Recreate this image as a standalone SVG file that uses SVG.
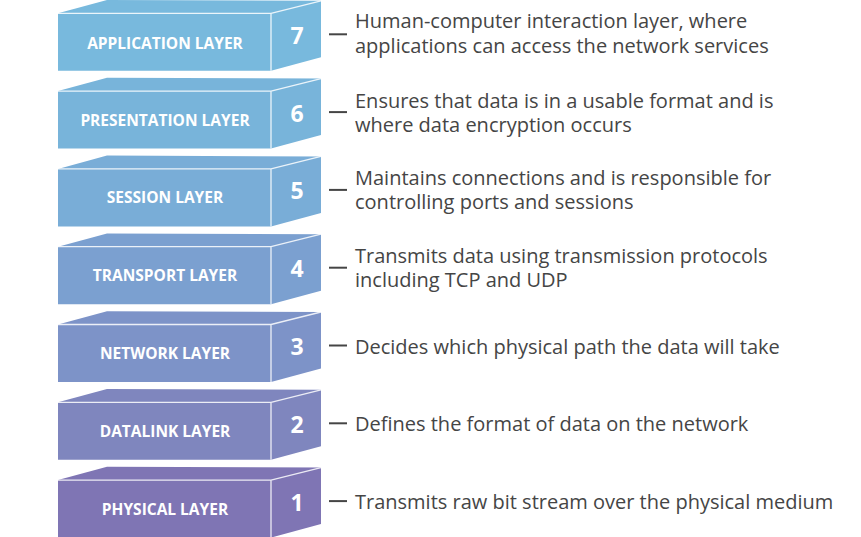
<svg xmlns="http://www.w3.org/2000/svg" width="861" height="537" viewBox="0 0 861 537">
<style>
.face{stroke:none}
.edge{stroke:#ffffff;stroke-opacity:0.85;stroke-width:1.3;fill:none}
.lbl{font-family:"Open Sans","Liberation Sans",sans-serif;font-weight:700;font-size:15.5px;fill:#ffffff;text-anchor:middle}
.num{font-family:"Open Sans","Liberation Sans",sans-serif;font-weight:700;font-size:23px;fill:#ffffff;text-anchor:middle}
.desc{font-family:"Open Sans","Liberation Sans",sans-serif;font-size:20px;fill:#454545}
.dash{stroke:#454545;stroke-width:2}
</style>
<defs>
<g id="box">
<path class="face" d="M58,0 L107,-13.3 L321,-12.5 L321,44 L271,57.5 L58,57.5 Z"/>
<path class="edge" d="M58,0 L271,0 L321,-12.5 M271,0 L271,57.5"/>
</g>
</defs>
<rect width="861" height="537" fill="#ffffff"/>
<g id="layer7" transform="translate(0,13.3)" fill="#78b9dd">
<use href="#box"/>
<text class="lbl" x="165" y="35.5">APPLICATION LAYER</text>
<text class="num" x="297" y="30.7">7</text>
<text class="desc" x="355" y="15">Human-computer interaction layer, where</text>
<text class="desc" x="355" y="39.4">applications can access the network services</text>
</g>
<g id="layer6" transform="translate(0,91.1)" fill="#78b4da">
<use href="#box"/>
<text class="lbl" x="165" y="34.5">PRESENTATION LAYER</text>
<text class="num" x="297" y="30.5">6</text>
<text class="desc" x="355" y="17">Ensures that data is in a usable format and is</text>
<text class="desc" x="355" y="41.4">where data encryption occurs</text>
</g>
<g id="layer5" transform="translate(0,168.9)" fill="#79add7">
<use href="#box"/>
<text class="lbl" x="165" y="34.5">SESSION LAYER</text>
<text class="num" x="297" y="30.5">5</text>
<text class="desc" x="355" y="16">Maintains connections and is responsible for</text>
<text class="desc" x="355" y="40.4">controlling ports and sessions</text>
</g>
<g id="layer4" transform="translate(0,246.7)" fill="#7ba0d0">
<use href="#box"/>
<text class="lbl" x="165" y="34.5">TRANSPORT LAYER</text>
<text class="num" x="297" y="30.5">4</text>
<text class="desc" x="355" y="16">Transmits data using transmission protocols</text>
<text class="desc" x="355" y="40.4">including TCP and UDP</text>
</g>
<g id="layer3" transform="translate(0,324.5)" fill="#7d93c8">
<use href="#box"/>
<text class="lbl" x="165" y="34.5">NETWORK LAYER</text>
<text class="num" x="297" y="30.5">3</text>
<text class="desc" x="355" y="29">Decides which physical path the data will take</text>
</g>
<g id="layer2" transform="translate(0,402.3)" fill="#7f86be">
<use href="#box"/>
<text class="lbl" x="165" y="34.5">DATALINK LAYER</text>
<text class="num" x="297" y="30.5">2</text>
<text class="desc" x="355" y="29">Defines the format of data on the network</text>
</g>
<g id="layer1" transform="translate(0,480.1)" fill="#7f75b4">
<use href="#box"/>
<text class="lbl" x="165" y="34.5">PHYSICAL LAYER</text>
<text class="num" x="297" y="30.5">1</text>
<text class="desc" x="355" y="29">Transmits raw bit stream over the physical medium</text>
</g>
<g id="connectors">
<line class="dash" x1="329" y1="34.3" x2="347" y2="34.3"/>
<line class="dash" x1="329" y1="112.1" x2="347" y2="112.1"/>
<line class="dash" x1="329" y1="189.9" x2="347" y2="189.9"/>
<line class="dash" x1="329" y1="267.7" x2="347" y2="267.7"/>
<line class="dash" x1="329" y1="345.5" x2="347" y2="345.5"/>
<line class="dash" x1="329" y1="423.3" x2="347" y2="423.3"/>
<line class="dash" x1="329" y1="501.1" x2="347" y2="501.1"/>
</g>
</svg>
